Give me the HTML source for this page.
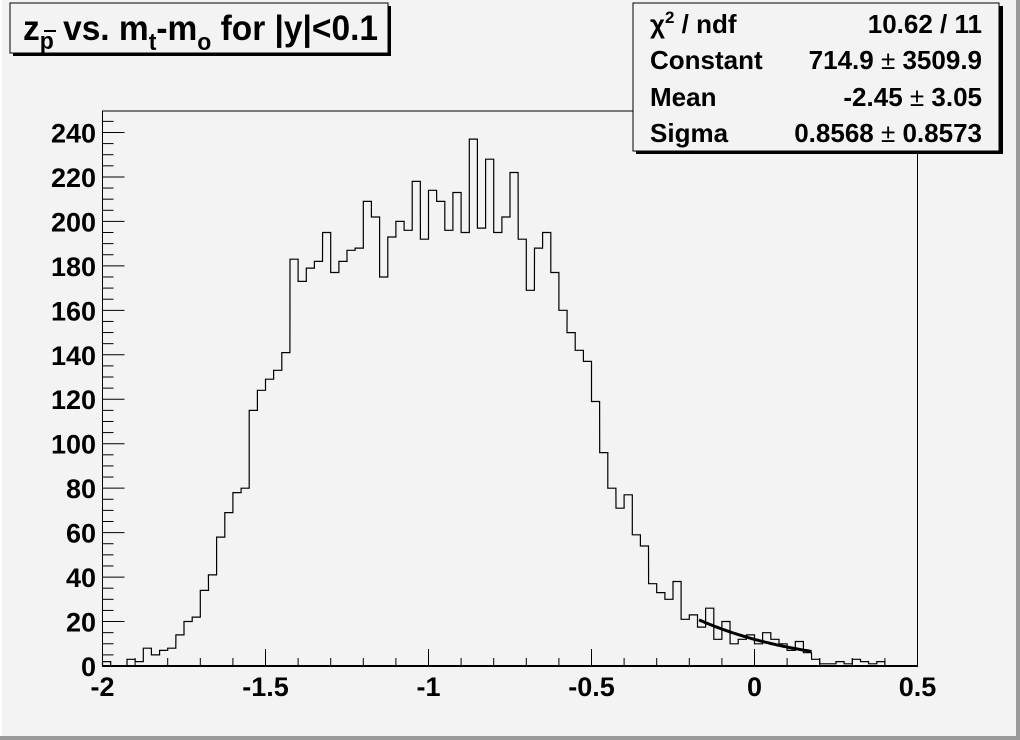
<!DOCTYPE html>
<html><head><meta charset="utf-8"><style>
html,body{margin:0;padding:0;background:#f3f3f3;}
svg{display:block;font-family:"Liberation Sans",Arial,sans-serif;font-weight:bold;}
</style></head><body>
<svg id="s" width="1020" height="740" xmlns="http://www.w3.org/2000/svg">
<rect x="0" y="0" width="1020" height="740" fill="#f3f3f3"/>
<line x1="0" y1="738" x2="1020" y2="738" stroke="#9a9a9a" stroke-width="4"/>
<line x1="1018" y1="0" x2="1018" y2="740" stroke="#9a9a9a" stroke-width="4"/>
<line x1="1" y1="0" x2="1" y2="736" stroke="#ffffff" stroke-width="2"/>
<rect x="102.5" y="111" width="815" height="555" fill="#f3f3f3" stroke="#000" stroke-width="1"/>
<g id="ticks" stroke="#000" stroke-width="1"></g>
<path id="h" fill="none" stroke="#000" stroke-width="1.2"/>
<path id="f" fill="none" stroke="#000" stroke-width="3"/>
<line x1="102" y1="666" x2="918" y2="666" stroke="#000" stroke-width="2"/>
<g id="lbl" font-size="27" fill="#000"></g>
<!-- title -->
<rect x="13" y="6" width="378" height="50" fill="#000"/>
<rect x="10" y="3" width="378" height="50" fill="#f3f3f3" stroke="#000" stroke-width="1"/>
<text x="23" y="40" font-size="35" textLength="355" lengthAdjust="spacingAndGlyphs">z<tspan font-size="24" dy="9">p</tspan><tspan dy="-9"> vs. m</tspan><tspan font-size="24" dy="10">t</tspan><tspan dy="-10">-m</tspan><tspan font-size="24" dy="10">o</tspan><tspan dy="-10"> for |y|&lt;0.1</tspan></text>
<line x1="44" y1="31" x2="56" y2="31" stroke="#000" stroke-width="2"/>
<!-- stats -->
<rect x="636" y="6" width="367" height="148" fill="#000"/>
<rect x="633" y="3" width="366" height="148" fill="#f3f3f3" stroke="#000" stroke-width="1"/>
<g font-size="26">
<text x="650" y="33">χ<tspan font-size="17" dy="-10">2</tspan><tspan dy="10"> / ndf</tspan></text>
<text x="982" y="33" text-anchor="end">10.62 / 11</text>
<text x="650" y="69">Constant</text>
<text x="982" y="69" text-anchor="end">714.9 <tspan font-weight="normal">±</tspan> 3509.9</text>
<text x="650" y="106">Mean</text>
<text x="982" y="106" text-anchor="end">-2.45 <tspan font-weight="normal">±</tspan> 3.05</text>
<text x="650" y="142">Sigma</text>
<text x="982" y="142" text-anchor="end">0.8568 <tspan font-weight="normal">±</tspan> 0.8573</text>
</g>
</svg>
<script>
var v=[2,0,0,3,2,8,5,7,8,14,20,22,34,41,58,69,78,80,115,124,129,133,141,183,173,179,182,195,177,182,187,188,209,202,175,193,200,196,218,192,214,209,196,213,195,237,197,228,195,202,222,192,169,188,195,177,160,150,142,137,119,96,80,71,77,59,54,37,33,30,38,21,23,17.5,26,12,20,10,12,14,10,15,12,10,7,11,6,3,1,1,2,1,3,2,1,2,0,0,0,0];
var X0=102.5,W=815,Y0=666,S=2.223;
function px(x){return X0+(x+2)/2.5*W;}
function py(y){return Y0-y*S;}
var bw=W/100,d="M"+X0+" "+Y0;
for(var i=0;i<100;i++){var x=X0+i*bw,y=py(v[i]);d+=" L"+x.toFixed(1)+" "+y.toFixed(1)+" L"+(x+bw).toFixed(1)+" "+y.toFixed(1);}
d+=" L"+(X0+W)+" "+Y0;
document.getElementById("h").setAttribute("d",d);
var f="";for(var x=-0.17;x<=0.176;x+=0.005){var y=714.9*Math.exp(-Math.pow(x+2.45,2)/(2*0.8568*0.8568));f+=(f?" L":"M")+px(x).toFixed(1)+" "+py(y).toFixed(1);}
document.getElementById("f").setAttribute("d",f);
var t="",l="";
for(var k=0;k<=245;k+=5){var y=py(k),len=(k%20==0)?22:11;t+='<line x1="102.5" y1="'+y+'" x2="'+(102.5+len)+'" y2="'+y+'"/>';
 if(k%20==0)l+='<text x="96" y="'+(y+10)+'" text-anchor="end">'+k+'</text>';}
for(var j=0;j<=25;j++){var x=X0+j*W/25,len=(j%5==0)?17:8;t+='<line x1="'+x+'" y1="666" x2="'+x+'" y2="'+(666-len)+'"/>';}
var xl=["-2","-1.5","-1","-0.5","0","0.5"];
for(var j=0;j<6;j++){l+='<text x="'+(X0+j*W/5)+'" y="696" text-anchor="middle">'+xl[j]+'</text>';}
document.getElementById("ticks").innerHTML=t;
document.getElementById("lbl").innerHTML=l;
</script>
</body></html>
